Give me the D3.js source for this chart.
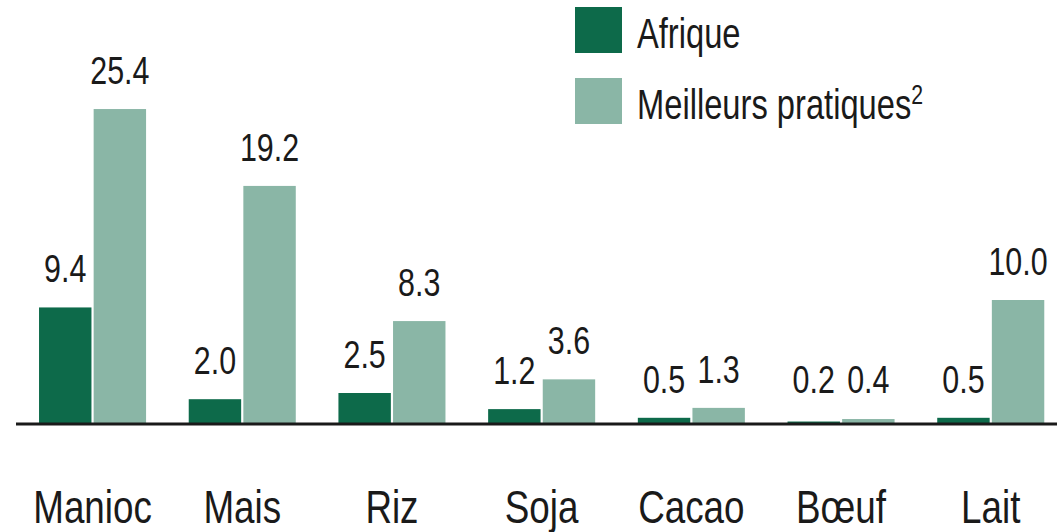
<!DOCTYPE html>
<html>
<head>
<meta charset="utf-8">
<script src="https://cdn.jsdelivr.net/npm/d3@7"></script>
<style>
  html, body { margin: 0; padding: 0; background: #fff; }
  svg { display: block; }
  text { font-family: "Liberation Sans", Arial, sans-serif; fill: #1a1a1a; }
</style>
</head>
<body>
<svg id="chart" width="1057" height="532"></svg>
<script>
const categories = ['Manioc', 'Mais', 'Riz', 'Soja', 'Cacao', 'Bœuf', 'Lait'];
const series = ['Afrique', 'Meilleurs pratiques'];
const afrique = [9.4, 2.0, 2.5, 1.2, 0.5, 0.2, 0.5];
const meilleurs = [25.4, 19.2, 8.3, 3.6, 1.3, 0.4, 10.0];
const colors = ['#0d6a4a', '#8ab6a6'];

const width = 1057, height = 532;
const baseY = 424;
const svg = d3.select('#chart');

const rows = categories.map((c, i) => ({cat: c, values: [afrique[i], meilleurs[i]]}));

const x0 = d3.scaleBand()
    .domain(categories)
    .range([17.7, 1065.6])
    .paddingInner(0.285)
    .paddingOuter(0.1425);

const x1 = d3.scaleBand()
    .domain(series)
    .range([0, x0.bandwidth()])
    .paddingInner(0.04);

const y = d3.scaleLinear()
    .domain([0, 30])
    .range([baseY, baseY - 372]);

// bars
const groups = svg.append('g')
    .selectAll('g.group')
    .data(rows)
    .enter()
    .append('g')
    .attr('class', 'group')
    .attr('transform', d => `translate(${x0(d.cat)},0)`);

const bars = groups.selectAll('g.bar')
    .data(d => d.values.map((v, k) => ({s: series[k], k, v})))
    .enter()
    .append('g')
    .attr('class', 'bar');

bars.append('rect')
    .attr('x', d => x1(d.s))
    .attr('y', d => y(d.v))
    .attr('width', x1.bandwidth())
    .attr('height', d => baseY - y(d.v))
    .attr('fill', d => colors[d.k]);

// value labels, squeezed horizontally like the original
bars.append('text')
    .attr('transform', d => `translate(${x1(d.s) + x1.bandwidth() / 2},${Math.min(y(d.v) - 25, baseY - 31)}) scale(0.78,1)`)
    .attr('text-anchor', 'middle')
    .attr('font-size', 39)
    .text(d => d.v.toFixed(1));

// baseline
svg.append('line')
    .attr('x1', 16)
    .attr('x2', width)
    .attr('y1', baseY)
    .attr('y2', baseY)
    .attr('stroke', '#1a1a1a')
    .attr('stroke-width', 3);

// category labels
svg.append('g')
    .selectAll('text')
    .data(categories)
    .enter()
    .append('text')
    .attr('transform', d => `translate(${x0(d) + x0.bandwidth() / 2},523) scale(0.8,1)`)
    .attr('text-anchor', 'middle')
    .attr('font-size', 46)
    .text(d => d);

// legend
const legend = svg.append('g')
    .selectAll('g')
    .data(series)
    .enter()
    .append('g')
    .attr('transform', (d, i) => `translate(575,${7 + i * 71})`);

legend.append('rect')
    .attr('width', 47)
    .attr('height', 46)
    .attr('fill', (d, i) => colors[i]);

const lt = legend.append('text')
    .attr('transform', 'translate(62,41) scale(0.76,1)')
    .attr('font-size', 43);

lt.append('tspan').text(d => d);
lt.filter((d, i) => i === 1)
    .append('tspan')
    .attr('font-size', 28)
    .attr('dy', -15)
    .text('2');
</script>
</body>
</html>
